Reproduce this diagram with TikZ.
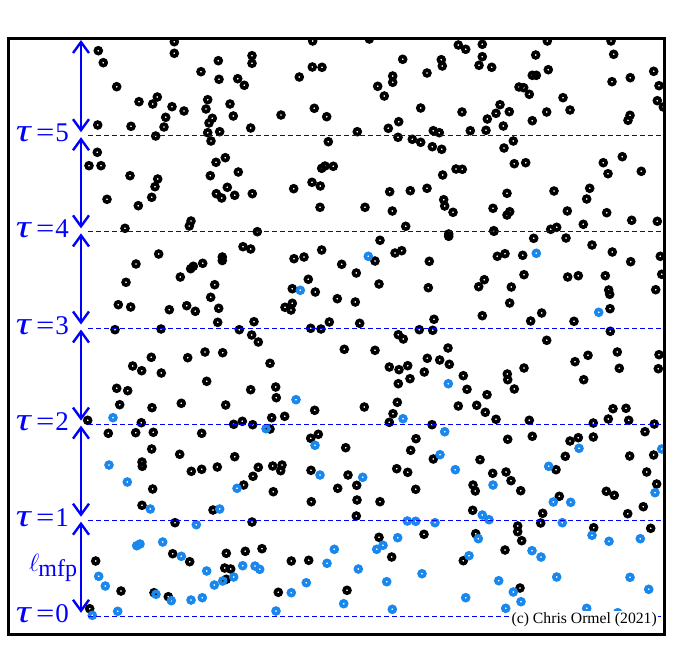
\documentclass[tikz,border=0pt]{standalone}
\usepackage{fontspec}
\usepackage{graphicx}
\setmainfont{Liberation Serif}
\usetikzlibrary{arrows.meta}
\definecolor{dotblue}{RGB}{25,135,235}
\newcommand{\taulabel}[1]{\scalebox{1.55}[1.2]{\textit{τ}}\kern4pt\scalebox{1.2}[1]{=}\kern1pt #1}
\begin{document}
\begin{tikzpicture}[x=1pt,y=-1pt,
  blk/.style={draw=black,line width=3.6pt},
  blu/.style={draw=dotblue,line width=3.6pt},
  tauline/.style={blue,line width=1pt,dash pattern=on 5pt off 3pt},
  spanarrow/.style={blue,line width=2.4pt,{Straight Barb[length=11pt,width=16pt]}-{Straight Barb[length=11pt,width=16pt]}},
  taulab/.style={blue,font=\fontsize{27}{27}\selectfont,anchor=base east,inner sep=0pt},
  credit/.style={font=\fontsize{15.7}{16}\selectfont,fill=white,inner sep=1pt,anchor=base east}]
\useasboundingbox (0,0) rectangle (672,672);
\begin{scope}
\clip (8,38) rectangle (664,634);
\foreach \x/\y in {98.3/50.7, 103.3/62.7, 174.3/41.7, 174.3/53.3, 218.3/60.7, 252/55.7, 252/63.3, 201/71.7, 116.7/86.7, 219/79.3, 237.7/78.7, 244.3/85.3, 139/101.7, 157.3/97, 152.7/104, 172/106.7, 184/111, 207.7/99.7, 206/109, 230/104, 233.3/116, 281/115, 165.7/117.3, 164/127, 212.3/118.3, 209/123, 97.7/125, 131/126.3, 250.7/128, 155.7/136, 207.7/132.7, 219.7/131.7, 211/141, 97.3/152.3, 89/165.7, 101/165.7, 216/162.3, 225.3/157.7, 238.3/172, 130/175.7, 210.3/175.7, 157.7/179, 155/186.7, 227.3/187.3, 216.3/193.7, 221.7/198, 234.7/195.3, 252.3/193.7, 107/199.3, 151.7/197.3, 138.3/205.7, 191/221, 189.3/226, 125/228.3, 257.3/231.7,
312.7/41, 369.3/39, 458.3/45, 465.7/49.3, 402.7/59.3, 441.3/59.7, 442.3/66, 312.3/67, 322/67.3, 299.3/77, 392.7/76, 392.7/82.3, 427/73, 377.7/86.3, 384.3/96, 314.3/108.3, 326.7/116.7, 420.7/108, 462/112, 357.3/131.7, 388.3/128.3, 398.7/121.7, 398/137.3, 412.3/139.3, 420.7/142.3, 433.3/130.7, 439.3/132.7, 470.3/130.7, 328.3/141.7, 432.3/146.7, 441.7/149.3, 321.7/168.3, 325/166, 333.3/166.3, 456/169, 462.3/169.3, 442.7/175, 312/182.3, 320.3/186, 293.7/188.7, 389.7/191.7, 410.3/190.7, 427/188.3, 443.7/199.7, 444.7/206, 453/212.3, 320/207.3, 365/207.3, 392.3/211, 405.7/226.3, 448.7/234,
482.3/44.3, 547.3/41, 611/41, 482.3/56.7, 479/65.3, 491.7/67.3, 535.7/55, 613.7/54.3, 548.3/69.7, 532.3/75.3, 536.3/75.3, 653.7/71.3, 630.3/77.7, 659/85.7, 612/81.7, 519/87, 523.7/87.7, 529.3/94.3, 563/97.7, 657.3/100.7, 663.3/107, 500/104.7, 496/113.3, 509.3/111.7, 487.3/119, 503.3/126, 486/130.3, 532.3/120.7, 546.7/112, 570/110, 630/115.3, 628/120.3, 513.3/141, 504/148, 514.3/163.7, 525.7/162.7, 622.3/156.7, 603.3/162.7, 608/173.7, 641.3/171.3, 507/193.3, 554/191, 589.7/188.3, 586.7/199, 493/208.3, 509.7/211.7, 507/215, 567.3/211, 606.7/212.7, 631.7/220.3, 657.3/221.3, 583.3/224.3, 493.7/230.7, 550.7/229.3, 556.7/227.3,
243/246.7, 250.7/249, 158.7/254, 136/264, 222.3/257, 222.3/260.5, 202.7/263.3, 193.3/266.3, 190.7/268.7, 180.3/277, 126/282.3, 214.7/284.7, 210.7/297.3, 118.3/304.7, 130.7/307, 169.3/309.7, 186.7/305.7, 195.3/311.3, 218.7/308.3, 217.7/322.3, 254/321.7, 294/258.7, 304/257, 321.7/250, 341.7/264.3, 356.3/273, 375/261, 380/240.3, 308.3/279.3, 292.3/288.7, 315.3/292, 337.3/298.7, 355.3/302, 379/284, 285/307.3, 292.3/303.3, 291/310, 329.3/322, 359.7/323.3, 115/329.7, 161/329, 239.3/329.7, 251.7/335, 258.3/342, 310.7/328.3, 321/329, 344.3/349.3, 375/350.3, 151.3/357.3, 205/352, 222.7/352.7, 187.7/357.7, 132.7/366, 141.7/370.7, 161.3/373, 270/363.3, 206.7/381.3, 116.7/388.3, 127.7/390.7, 250.7/389.7, 275.7/387, 276.3/397.7, 181.3/403.3, 119.7/404.7, 152/407.7, 225.7/405, 314.7/410.3, 364.3/407, 271.7/417.7, 284.7/416.3, 87.7/420.3, 141.3/422.7, 233.7/424.3, 242.3/421.3, 252.7/424.7,
494/231.3, 448.7/236.3, 533.7/238.3, 566/238, 592/245, 395/253, 401.7/250.7, 429.3/261.3, 497.3/256.3, 505/253.7, 522.7/255.3, 612.3/252, 630.7/261.7, 660.3/256.3, 428.3/287.7, 478.7/286.7, 484.3/279.7, 511.3/287, 524/274.7, 567.7/277, 578.3/275.7, 605.3/275.7, 608.7/290, 609.7/294.3, 661.7/274.3, 655.7/289.7, 509.7/303, 482.3/315.7, 541.7/313, 530.7/321, 574/321.3, 610/308.7, 434/319.3, 419.3/329.7, 432.7/330.3, 398.3/334.7, 403.3/339, 546.7/340.3, 610.3/331.3, 448/348, 427.3/358.3, 439.7/360, 449.3/364.3, 389.3/367, 399/369.7, 407.7/365.7, 424.3/372, 410/378.7, 398.3/383.7, 588/355.3, 617.3/352, 659/354.7, 575/361.7, 619.3/368.3, 658.3/368.7, 524/368, 507.3/374, 507.7/379.7, 514.3/389, 463.3/375.7, 467/389.3, 583.7/379.7, 487/394.7, 397.3/402.3, 458.3/406, 476.7/405.3, 485.3/412.3, 393/413.7, 389.3/422.3, 432/424.7, 496/419.3, 529.3/420.3, 613/408.7, 626/408.3, 608.3/419, 628.7/420.3, 593.3/423, 654.3/424,
108.3/433.3, 135.7/432.7, 153.3/432.3, 201.7/433.3, 270/429, 310.7/438.3, 318.3/434.3, 151.7/449, 179.7/454.3, 234.7/456.7, 345.7/447.7, 142/462, 142.3/466.3, 191.3/471.3, 201.7/469.3, 217.3/467, 258.3/467.3, 272.7/466, 282/465, 280.7/470.7, 253/476.3, 311/470.3, 348/475, 243.7/485, 152.7/489, 273.3/491.7, 337.7/488.3, 356.7/485.3, 357/500, 311.3/501.7, 380/501.7, 142/505.3, 213/510, 175/522.7, 252/522, 356.3/516, 379/537.3, 95.7/561, 172.7/553.7, 189.7/561.7, 226.3/553.3, 245.3/551.3, 262/548.7, 224.7/568, 230.7/569, 226.3/579.3, 291.3/561, 308.7/560.3, 121/591, 154/592.7, 168.3/596.7, 278.3/592.3, 347/590.3, 89.7/608.7,
416/438.7, 410.7/450.3, 507.7/439.3, 532.3/436.3, 570/441, 578.3/437.7, 593.3/437, 645/431.7, 433.3/459, 480/459.7, 565.3/456.3, 629.7/456, 653.7/455, 396.7/468.7, 407.7/472.3, 492.7/473.3, 506/472, 511/480.7, 556/469.7, 646.7/472, 473/485, 475.3/491, 520.7/490.7, 415.7/489.3, 656.7/484, 559.3/496.3, 606.3/491.3, 614.3/495.3, 643.3/506.7, 627.7/513.7, 472.7/510.3, 542.7/513.3, 540.7/523, 424/534.3, 475.7/533.7, 517.7/526, 517.7/531.7, 521.7/540.7, 593.7/527.7, 650.7/528.3, 391.7/557, 463.3/560.7, 505/550, 520/588}
  \draw[blk] (\x,\y) circle[radius=2.9pt];
\foreach \x/\y in {368.3/256.3, 300.3/290.3, 536.3/253.3, 598.7/312.3, 296/399.7, 113/417.7, 448.3/383.7, 403/418.7, 266/428.7, 315/445.3, 109/465, 127.3/482, 237/488.3, 320/475, 362.7/477.3, 150.3/509, 219.7/509, 196.3/524.7, 136.7/545.7, 140/544, 162.7/542, 181.3/556.3, 206.7/571, 242.7/565.7, 255/566, 259.7/569.3, 334.3/549.3, 327/563.3, 358.3/569, 376.7/549.3, 98.7/576.3, 105.3/586, 214.3/585, 222.7/581, 233.7/577, 306.3/582.7, 291.3/592.7, 156/594.3, 171.3/600.7, 191/600, 202.3/597.7, 343.7/603.7, 117.7/611.3, 92.3/615.3, 276/611,
444.7/431.7, 440/454.7, 455.3/469.7, 493/485, 548.7/466.3, 579/448.3, 661.7/449, 655/492.7, 553.3/502, 570.7/502.3, 407.3/521, 415.7/521.3, 435/522.7, 482.3/515, 489/519.7, 562.3/522.7, 397.7/537.7, 383/545.3, 478.3/538.7, 592/535.3, 609/541.3, 640.3/538.7, 532/550.7, 541/557, 469/555.7, 422/573.7, 386.7/581.7, 498.7/580.7, 556.7/577, 630/577.3, 513.3/592, 521/601.7, 465.7/597.7, 648.7/589.3, 392.3/609.3, 505.7/608.3, 586.7/608.3, 617.7/612.7}
  \draw[blu] (\x,\y) circle[radius=2.9pt];
\end{scope}
% tau levels
\foreach \k/\y in {0/616.3,1/520.2,2/424.1,3/328.0,4/231.9,5/135.7}{
  \coordinate (L\k) at (88,\y);
  \coordinate (R\k) at (663,\y);
  \draw[tauline] (L\k) -- (R\k);
  \node[taulab] (tau\k) at (69,\y+6) {\taulabel{\k}};
  \coordinate (up\k) at (81,\y-3.5);
  \coordinate (dn\k) at (81,\y+1.5);
}
\coordinate (topend) at (81,40);
\draw[spanarrow] (dn1) -- (up0);
\draw[spanarrow] (dn2) -- (up1);
\draw[spanarrow] (dn3) -- (up2);
\draw[spanarrow] (dn4) -- (up3);
\draw[spanarrow] (dn5) -- (up4);
\draw[spanarrow] (topend) -- (up5);
\node[blue,anchor=base west,inner sep=0pt,font=\fontsize{29}{29}\selectfont] (lmfp) at (29,571.5) {$\ell$\kern-1pt\raisebox{-4.5pt}{\fontsize{24}{24}\selectfont mfp}};
\node[credit] (copy) at (658,623) {(c) Chris Ormel (2021)};
\draw[line width=3pt] (8,38.5) rectangle (664,634);
\end{tikzpicture}
\end{document}
